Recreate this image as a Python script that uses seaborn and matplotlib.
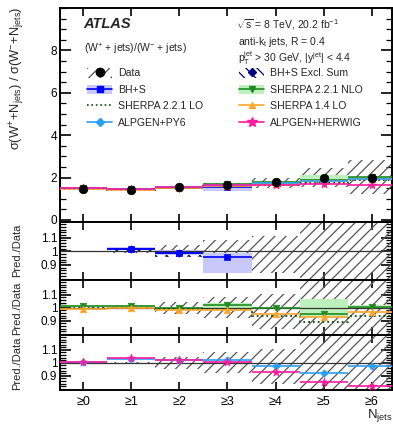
import numpy as np
import seaborn as sns
import matplotlib
matplotlib.use("Agg")
import matplotlib.pyplot as plt
from matplotlib.patches import Patch
from matplotlib.lines import Line2D
from matplotlib.ticker import MultipleLocator, FixedLocator

sns.set_theme(style="ticks")
plt.rcParams['font.family'] = ['Liberation Sans', 'DejaVu Sans']
plt.rcParams['mathtext.fontset'] = 'custom'
plt.rcParams['mathtext.rm'] = 'Liberation Sans'
plt.rcParams['mathtext.it'] = 'Liberation Sans:italic'
plt.rcParams['mathtext.bf'] = 'Liberation Sans:bold'
plt.rcParams['hatch.linewidth'] = 0.9

# ---- data ----
njets = [0, 1, 2, 3, 4, 5, 6]
tick_labels = ['≥0', '≥1', '≥2', '≥3', '≥4', '≥5', '≥6']
data = [1.48, 1.43, 1.53, 1.63, 1.77, 1.97, 2.00]
data_up = [0.005, 0.01, 0.045, 0.08, 0.11, 0.25, 0.42]   # relative uncertainty
data_dn = [0.005, 0.01, 0.045, 0.08, 0.16, 0.22, 0.38]

nan = np.nan
# predictions / data
bhs = [nan, 1.02, 0.99, 0.955, nan, nan, nan]
bhs_lo = [nan, 1.01, 0.97, 0.84, nan, nan, nan]
bhs_hi = [nan, 1.03, 1.01, 0.99, nan, nan, nan]
excl = [nan, 1.015, 0.985, nan, nan, nan, nan]
excl_lo = [nan, 1.0, 0.955, nan, nan, nan, nan]
excl_hi = [nan, 1.02, 1.0, nan, nan, nan, nan]
nlo = [1.015, 1.015, 1.0, 1.025, 1.0, 0.955, 1.005]
nlo_lo = [1.005, 1.005, 0.99, 1.0, 0.99, 0.93, 0.99]
nlo_hi = [1.02, 1.02, 1.01, 1.04, 1.01, 1.07, 1.02]
lo221 = [1.0, 1.0, 0.99, 0.99, 0.935, 0.89, 0.935]
lo14 = [0.99, 0.995, 0.98, 0.985, 0.95, 0.93, 0.965]
py6 = [1.01, 1.03, 1.02, 1.02, 0.975, 0.92, 0.975]
herwig = [1.01, 1.035, 1.02, 1.01, 0.93, 0.85, 0.82]

C_BHS, C_BHS_BAND = '#0000ff', '#c8c8fa'
C_EXCL = '#000080'
C_NLO, C_NLO_BAND = '#1f8a1f', '#bdf0bd'
C_LO221 = '#0d4d0d'
C_LO14 = '#ffa62b'
C_PY6 = '#2aa0f5'
C_HER = '#ff1aa0'
C_HATCH = '#555555'

edges = np.arange(-0.5, 7.0, 1.0)


def draw_series(ax, y, color, marker=None, ls='-', lo=None, hi=None,
                band=None, hatch=None, ms=22, scale=None):
    y = np.asarray(y, float)
    sc = np.ones(len(y)) if scale is None else np.asarray(scale, float)
    for i, v in enumerate(y):
        if np.isnan(v):
            continue
        x0, x1 = i - 0.5, i + 0.5
        if lo is not None:
            if hatch:
                ax.fill_between([x0, x1], lo[i] * sc[i], hi[i] * sc[i], facecolor='none',
                                edgecolor=color, hatch=hatch, lw=0, zorder=2)
            else:
                ax.fill_between([x0, x1], lo[i] * sc[i], hi[i] * sc[i], color=band,
                                lw=0, zorder=2)
        ax.hlines(v * sc[i], x0, x1, color=color, lw=1.2, ls=ls, zorder=3)
    if marker:
        ok = ~np.isnan(y)
        sns.scatterplot(x=np.array(njets)[ok], y=(y * sc)[ok], ax=ax, marker=marker,
                        color=color, s=ms, edgecolor=color, linewidth=0.5,
                        zorder=5, legend=False)


def draw_data_band(ax, scale):
    sc = np.asarray(scale, float)
    for i in range(len(data)):
        ax.fill_between([i - 0.5, i + 0.5], sc[i] * (1 - data_dn[i]), sc[i] * (1 + data_up[i]),
                        facecolor='none', edgecolor=C_HATCH, hatch='///', lw=0, zorder=1)


fig = plt.figure(figsize=(3.93, 4.25), dpi=100)
L, W = 60 / 393, 332 / 393


def px_axes(top, bottom):
    return fig.add_axes([L, 1 - bottom / 425, W, (bottom - top) / 425])


ax0 = px_axes(8, 222)
ax1 = px_axes(222, 280)
ax2 = px_axes(280, 335)
ax3 = px_axes(335, 390)

# ---- main panel ----
draw_data_band(ax0, data)
draw_series(ax0, bhs, C_BHS, 's', lo=bhs_lo, hi=bhs_hi, band=C_BHS_BAND, scale=data)
draw_series(ax0, excl, C_EXCL, 'D', lo=excl_lo, hi=excl_hi, hatch='\\\\\\', scale=data, ms=14)
draw_series(ax0, nlo, C_NLO, 'v', lo=nlo_lo, hi=nlo_hi, band=C_NLO_BAND, scale=data)
ax0.stairs(np.array(lo221) * np.array(data), edges, baseline=None, color=C_LO221, ls=':', lw=1.3, zorder=3)
draw_series(ax0, lo14, C_LO14, '^', scale=data)
draw_series(ax0, py6, C_PY6, 'D', scale=data, ms=14)
draw_series(ax0, herwig, C_HER, '*', scale=data, ms=40)
sns.scatterplot(x=njets, y=data, ax=ax0, color='black', s=38, edgecolor='black',
                zorder=8, legend=False)
ax0.set_ylim(-0.1, 10.0)
ax0.yaxis.set_major_locator(FixedLocator([0, 2, 4, 6, 8]))
ax0.yaxis.set_minor_locator(MultipleLocator(0.5))

# ---- ratio panels ----
ones = np.ones(len(data))
for ax in (ax1, ax2, ax3):
    draw_data_band(ax, ones)
    ax.axhline(1.0, color='#333333', lw=0.9, zorder=2.5)
    ax.set_ylim(0.79, 1.215)
    ax.yaxis.set_major_locator(FixedLocator([0.9, 1.0, 1.1]))
    ax.yaxis.set_minor_locator(MultipleLocator(0.02))
    ax.yaxis.set_major_formatter(plt.FuncFormatter(lambda v, p: f'{v:g}'))

draw_series(ax1, excl, C_EXCL, 'D', lo=excl_lo, hi=excl_hi, hatch='\\\\\\', ms=14)
draw_series(ax1, bhs, C_BHS, 's', lo=bhs_lo, hi=bhs_hi, band=C_BHS_BAND)

draw_series(ax2, nlo, C_NLO, 'v', lo=nlo_lo, hi=nlo_hi, band=C_NLO_BAND)
ax2.stairs(lo221, edges, baseline=None, color=C_LO221, ls=':', lw=1.3, zorder=3)
draw_series(ax2, lo14, C_LO14, '^')

draw_series(ax3, py6, C_PY6, 'D', ms=14)
draw_series(ax3, herwig, C_HER, '*', ms=40)

for ax in (ax0, ax1, ax2, ax3):
    ax.set_xlim(-0.48, 6.42)
    ax.set_xticks(njets)
    ax.set_facecolor('white')
    for s in ax.spines.values():
        s.set_linewidth(1.4)
        s.set_color('black')
    ax.tick_params(axis='both', which='both', direction='in', top=True, right=True,
                   colors='black', labelsize=8.5, width=1.2, pad=2)
    ax.tick_params(axis='x', which='major', length=6)
    ax.tick_params(axis='y', which='major', length=8)
    ax.tick_params(axis='y', which='minor', length=4, width=0.9)
    ax.set_xlabel('')
    ax.set_ylabel('')
    if ax is not ax3:
        ax.tick_params(axis='x', labelbottom=False)
ax3.set_xticklabels(tick_labels, fontsize=9)
ax3.tick_params(axis='x', pad=4)

# ---- texts ----
def ftext(x, y, s, **kw):
    fig.text(x / 393, 1 - y / 425, s, **kw)

ftext(17, 7, 'σ(W$^{+}$+N$_{\\rm jets}$) / σ(W$^{-}$+N$_{\\rm jets}$)', rotation=90,
      ha='center', va='top', fontsize=9.3)
for top in (224, 282, 337):
    ftext(17, top, 'Pred./Data', rotation=90, ha='center', va='top', fontsize=8)
ftext(393, 415, 'N$_{\\rm jets}$', ha='right', va='center', fontsize=9.5)

ftext(83, 24, 'ATLAS', fontsize=10.5, fontweight='bold', fontstyle='italic', va='center')
ftext(84, 49, '(W$^{+}$ + jets)/(W$^{-}$ + jets)', fontsize=7.5, va='center')
ftext(236, 25, '$\\sqrt{\\rm s}$ = 8 TeV, 20.2 fb$^{-1}$', fontsize=7.5, va='center')
ftext(238, 42, 'anti-k$_{\\rm t}$ jets, R = 0.4', fontsize=7.5, va='center')
ftext(238, 58, 'p$_{\\rm T}^{\\rm jet}$ > 30 GeV, |y$^{\\rm jet}$| < 4.4', fontsize=7.5, va='center')

# ---- legends ----
def hline(color, marker=None, ls='-', ms=5):
    return Line2D([], [], color=color, ls=ls, lw=1.2, marker=marker, ms=ms,
                  markeredgecolor=color)

left_handles = [
    (Patch(facecolor='white', edgecolor=C_HATCH, hatch='///', lw=0), hline('black', 'o', 'none', 6)),
    (Patch(facecolor=C_BHS_BAND, lw=0), hline(C_BHS, 's')),
    hline(C_LO221, None, ':'),
    hline(C_PY6, 'D', ms=4),
]
left_labels = ['Data', 'BH+S', 'SHERPA 2.2.1 LO', 'ALPGEN+PY6']
right_handles = [
    (Patch(facecolor='white', edgecolor=C_EXCL, hatch='\\\\\\', lw=0), hline(C_EXCL, 'D', 'none', 4)),
    (Patch(facecolor=C_NLO_BAND, lw=0), hline(C_NLO, 'v')),
    hline(C_LO14, '^'),
    hline(C_HER, '*', ms=7),
]
right_labels = ['BH+S Excl. Sum', 'SHERPA 2.2.1 NLO', 'SHERPA 1.4 LO', 'ALPGEN+HERWIG']

leg_kw = dict(loc='upper left', frameon=False, fontsize=7.6, borderpad=0, borderaxespad=0,
              handlelength=2.4, handleheight=1.0, handletextpad=0.55, labelspacing=0.58,
              numpoints=1)
leg1 = ax0.legend(left_handles, left_labels, bbox_to_anchor=(0.081, 0.719), **leg_kw)
ax0.add_artist(leg1)
ax0.legend(right_handles, right_labels, bbox_to_anchor=(0.539, 0.719), **leg_kw)

fig.savefig('out.png', dpi=100)
